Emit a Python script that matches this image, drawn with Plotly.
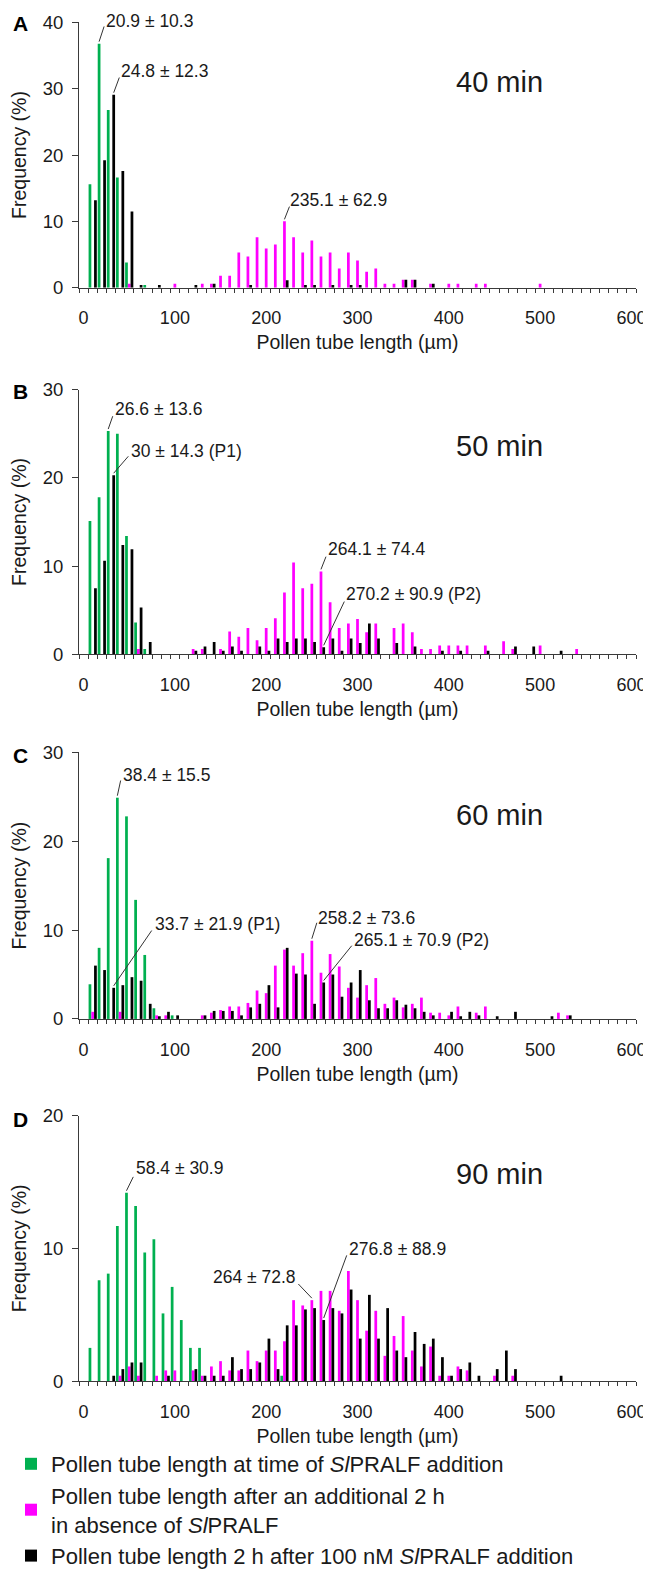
import plotly.graph_objects as go

W, H = 651, 1569
PAGE_MARGIN = 8                      # default page body margin around the figure
S = H / (H + 2 * PAGE_MARGIN)        # vertical scale of the photographed page
FONT = "Liberation Sans, Arial, Helvetica, sans-serif"
TXT = "#1a1a1a"
AX = "#3a3a3a"


def px_x(t):
    return (t - PAGE_MARGIN) / W


def px_y(t):
    return 1 - (t / S - PAGE_MARGIN) / H


# ---- categories: bin k is the category labelled 10*k µm ----
bin_step = 10
n_bins = 61
x_tick_vals = [0, 100, 200, 300, 400, 500, 600]
x_tick_text = ["0", "100", "200", "300", "400", "500", "600"]

series_names = [
    "Pollen tube length at time of <i>Sl</i>PRALF addition",
    "Pollen tube length after an additional 2 h<br>in absence of <i>Sl</i>PRALF",
    "Pollen tube length 2 h after 100 nM <i>Sl</i>PRALF addition",
]
series_colors = ["#00B050", "#FF00FF", "#000000"]

# ---- frequencies (%) per bin : {bin index: value} ----
green_40 = {1: 15.6, 2: 36.8, 3: 26.8, 4: 16.6, 5: 3.8, 7: 0.4}
magenta_40 = {5: 0.6, 10: 0.6, 13: 0.6, 14: 0.6, 15: 1.8, 16: 1.8, 17: 5.3, 18: 4.7,
              19: 7.6, 20: 5.9, 21: 6.5, 22: 10.0, 23: 7.6, 24: 5.3, 25: 7.1, 26: 4.7,
              27: 5.3, 28: 2.9, 29: 5.3, 30: 4.1, 31: 2.4, 32: 2.9, 33: 0.6, 34: 0.6,
              35: 1.2, 36: 1.2, 38: 0.6, 40: 0.6, 41: 0.6, 43: 0.6, 44: 0.6, 50: 0.6}
black_40 = {1: 13.2, 2: 19.2, 3: 29.1, 4: 17.6, 5: 11.5, 6: 0.4, 8: 0.4, 12: 0.4,
            14: 0.6, 18: 0.4, 22: 1.1, 24: 0.4, 25: 0.4, 27: 0.4, 29: 0.4, 30: 0.4,
            35: 1.2, 36: 1.2, 38: 0.6}

green_50 = {1: 15.1, 2: 17.8, 3: 25.3, 4: 25.0, 5: 13.4, 6: 3.6, 7: 0.6}
magenta_50 = {6: 0.6, 12: 0.6, 13: 0.6, 15: 0.6, 16: 2.6, 17: 2.0, 18: 3.0, 19: 1.6,
              20: 3.0, 21: 4.1, 22: 7.0, 23: 10.4, 24: 7.5, 25: 8.0, 26: 9.4, 27: 5.9,
              28: 3.0, 29: 3.5, 30: 4.0, 31: 2.5, 32: 3.5, 34: 3.0, 35: 3.5, 36: 2.5,
              37: 0.6, 38: 0.6, 39: 1.0, 40: 1.0, 41: 1.0, 42: 1.0, 44: 1.0, 46: 1.5,
              47: 0.6, 50: 1.0, 54: 0.6}
black_50 = {1: 7.5, 2: 10.6, 3: 20.3, 4: 12.4, 5: 11.9, 6: 5.3, 7: 1.4, 12: 0.4,
            13: 0.9, 14: 1.4, 15: 0.4, 16: 0.9, 17: 0.4, 19: 0.9, 20: 0.4, 21: 1.8,
            22: 1.4, 23: 1.8, 24: 1.8, 25: 1.4, 26: 0.8, 27: 1.8, 28: 0.4, 29: 1.8,
            30: 1.3, 31: 3.5, 32: 1.8, 34: 1.3, 36: 0.9, 39: 0.4, 41: 0.4, 44: 0.4,
            47: 0.9, 49: 0.9, 52: 0.4}

green_60 = {1: 3.9, 2: 8.0, 3: 18.1, 4: 24.9, 5: 22.8, 6: 13.4, 7: 7.2, 8: 1.2, 10: 0.4}
magenta_60 = {1: 0.8, 4: 0.8, 8: 0.4, 9: 0.4, 13: 0.4, 14: 0.7, 15: 1.0, 16: 1.4,
              17: 1.4, 18: 1.8, 19: 3.2, 20: 2.9, 21: 6.0, 22: 7.8, 23: 6.0, 24: 7.4,
              25: 8.8, 26: 5.2, 27: 7.3, 28: 5.9, 29: 3.5, 30: 2.4, 31: 3.8, 32: 4.6,
              33: 1.7, 34: 2.4, 35: 1.3, 36: 1.7, 37: 2.4, 38: 0.7, 39: 0.7, 40: 0.4,
              41: 1.4, 43: 0.7, 44: 1.4, 52: 0.7, 53: 0.4}
black_60 = {1: 6.0, 2: 5.5, 3: 3.5, 4: 3.8, 5: 4.7, 6: 4.3, 7: 1.7, 8: 0.3, 9: 0.8,
            10: 0.4, 13: 0.4, 14: 0.9, 15: 0.9, 16: 0.9, 17: 0.4, 18: 1.3, 19: 1.7,
            20: 3.8, 21: 1.3, 22: 8.0, 23: 5.1, 24: 5.0, 25: 1.7, 26: 4.1, 27: 5.0,
            28: 2.5, 29: 4.1, 30: 5.5, 31: 2.1, 32: 1.2, 33: 1.2, 34: 2.1, 35: 1.6,
            36: 1.2, 37: 0.8, 38: 0.4, 40: 0.8, 41: 0.3, 42: 0.8, 43: 0.4, 45: 0.3,
            47: 0.8, 51: 0.3, 53: 0.4}

green_90 = {1: 2.5, 2: 7.6, 3: 8.1, 4: 11.7, 5: 14.2, 6: 13.2, 7: 9.7, 8: 10.7,
            9: 5.1, 10: 7.1, 11: 4.6, 12: 2.5, 13: 2.5, 22: 0.4}
magenta_90 = {4: 0.4, 5: 1.1, 6: 0.4, 8: 0.4, 9: 0.8, 10: 0.8, 12: 0.8, 13: 0.4,
              14: 1.1, 15: 1.5, 16: 0.8, 17: 0.8, 18: 2.3, 19: 1.5, 20: 2.3, 21: 2.3,
              22: 3.0, 23: 6.1, 24: 5.7, 25: 6.1, 26: 6.8, 27: 6.8, 28: 5.3, 29: 8.3,
              30: 6.1, 31: 3.8, 32: 5.3, 33: 1.9, 34: 3.4, 35: 4.9, 36: 2.3, 37: 1.1,
              38: 2.6, 39: 0.4, 40: 0.4, 41: 1.1, 42: 0.8, 45: 0.4, 47: 0.4}
black_90 = {3: 0.4, 4: 0.9, 5: 1.4, 6: 1.4, 9: 0.4, 12: 0.9, 13: 0.4, 14: 0.4, 15: 0.4,
            16: 1.8, 17: 0.9, 18: 0.9, 19: 1.4, 20: 3.2, 21: 0.9, 22: 4.2, 23: 4.2,
            24: 5.4, 25: 5.5, 26: 4.6, 27: 5.5, 28: 5.1, 29: 6.9, 30: 3.2, 31: 6.5,
            32: 3.2, 33: 5.5, 34: 2.3, 35: 1.8, 36: 3.7, 37: 2.8, 38: 3.2, 39: 1.8,
            40: 0.4, 41: 0.9, 42: 1.4, 43: 0.4, 45: 0.9, 46: 2.3, 47: 0.9, 52: 0.4}

panel_letters = ["A", "B", "C", "D"]
panel_times = ["40 min", "50 min", "60 min", "90 min"]
panel_ymax = [40, 30, 30, 20]
panel_series = [
    (green_40, magenta_40, black_40),
    (green_50, magenta_50, black_50),
    (green_60, magenta_60, black_60),
    (green_90, magenta_90, black_90),
]

# mean ± SD labels: (series index, bin, text)
panel_labels = [
    [(0, 2, "20.9 ± 10.3"), (2, 3, "24.8 ± 12.3"), (1, 22, "235.1 ± 62.9")],
    [(0, 3, "26.6 ± 13.6"), (2, 3, "30 ± 14.3 (P1)"), (1, 26, "264.1 ± 74.4"),
     (2, 26, "270.2 ± 90.9 (P2)")],
    [(0, 4, "38.4 ± 15.5"), (2, 3, "33.7 ± 21.9 (P1)"), (1, 25, "258.2 ± 73.6"),
     (2, 26, "265.1 ± 70.9 (P2)")],
    [(0, 5, "58.4 ± 30.9"), (1, 25, "264 ± 72.8"), (2, 26, "276.8 ± 88.9")],
]

# ---- layout geometry (window pixels) ----
plot_left, plot_right = 79, 636
panel_top = [22.3, 388.3, 750.0, 1112.3]
panel_bottom = [286.7, 652.3, 1015.7, 1376.7]
time_y = [81.7, 445.0, 812.0, 1170.0]
letter_y = [23.7, 390.0, 753.0, 1116.0]
# leader-line end (dx, dy up) and text offset (dx, dy up, anchor)
label_geom = [
    [((5, 17), (5, 22.8, "left")), ((5.6, 17), (5.5, 23.3, "left")), ((5, 14.6), (4, 21.3, "left"))],
    [((4.5, 14.7), (5, 21.4, "left")), ((14.6, 18.7), (15, 23.7, "left")),
     ((5, 14.6), (5, 22.3, "left")), ((20.6, 45.3), (20.5, 52.6, "left"))],
    [((3.3, 17), (3.6, 22, "left")), ((38, 56.7), (39.3, 63, "left")),
     ((5, 17.8), (4.2, 22.8, "left")), ((28, 36.4), (28.3, 42.4, "left"))],
    [((6.8, 15.7), (7.5, 24, "left")), ((-13.5, 16), (-13.8, 23, "right")),
     ((23, 64), (23.3, 70, "left"))],
]

bargap = 0.1
bar_w = (1 - bargap) * bin_step / 3

fig = go.Figure()
shapes, annotations = [], []
layout = {}

for i in range(4):
    xa = "x" if i == 0 else f"x{i + 1}"
    ya = "y" if i == 0 else f"y{i + 1}"
    for s in range(3):
        d = panel_series[i][s]
        fig.add_trace(go.Bar(
            x=[k * bin_step for k in d], y=list(d.values()),
            name=series_names[s], legendgroup=f"s{s}", showlegend=(i == 0),
            marker=dict(color=series_colors[s], line=dict(width=0)),
            xaxis=xa, yaxis=ya, hoverinfo="x+y",
        ))
    dom_y = [px_y(panel_bottom[i]), px_y(panel_top[i])]
    ymax = panel_ymax[i]
    layout["xaxis" if i == 0 else f"xaxis{i + 1}"] = dict(
        domain=[px_x(plot_left), px_x(plot_right)], anchor=ya,
        range=[-bin_step / 2, (n_bins - 0.5) * bin_step],
        showline=True, linecolor=AX, linewidth=1, showgrid=False, zeroline=False,
        ticks="", tickmode="array", tickvals=x_tick_vals, ticktext=x_tick_text,
        tickfont=dict(size=18, color=TXT, family=FONT), ticklabelstandoff=14,
        minor=dict(tickmode="array",
                   tickvals=[(k - 0.5) * bin_step for k in range(n_bins + 1)],
                   ticks="outside", ticklen=4, tickwidth=1, tickcolor=AX, showgrid=False),
        title=dict(text="Pollen tube length (µm)", standoff=8,
                   font=dict(size=19.5, color=TXT, family=FONT)),
        automargin=False, fixedrange=True,
    )
    layout["yaxis" if i == 0 else f"yaxis{i + 1}"] = dict(
        domain=dom_y, anchor=xa, range=[0, ymax],
        tickmode="array", tickvals=list(range(0, ymax + 1, 10)),
        ticks="outside", ticklen=6, tickwidth=1, tickcolor=AX,
        showline=True, linecolor=AX, linewidth=1, showgrid=False, zeroline=False,
        tickfont=dict(size=18.5, color=TXT, family=FONT), ticklabelstandoff=5,
        title=dict(text="Frequency (%)", standoff=10,
                   font=dict(size=19.5, color=TXT, family=FONT)),
        automargin=False, fixedrange=True,
    )
    # mean ± SD labels with leader lines
    for (s, k, txt), ((ldx, ldy), (tdx, tdy, anc)) in zip(panel_labels[i], label_geom[i]):
        xpos = k * bin_step + (s - 1) * bar_w
        yval = panel_series[i][s][k]
        shapes.append(dict(type="line", xref=xa, yref=ya, xsizemode="pixel",
                           ysizemode="pixel", xanchor=xpos, yanchor=yval,
                           x0=0, y0=2, x1=ldx, y1=ldy / S,
                           line=dict(color="#333333", width=1)))
        annotations.append(dict(x=xpos, y=yval, xref=xa, yref=ya, text=txt,
                                showarrow=False, xanchor=anc, yanchor="middle",
                                xshift=tdx, yshift=tdy / S,
                                font=dict(size=17.5, color=TXT, family=FONT)))
    annotations.append(dict(x=px_x(454), y=px_y(time_y[i]), xref="paper", yref="paper",
                            text=panel_times[i], showarrow=False, xanchor="left",
                            yanchor="middle", font=dict(size=29, color=TXT, family=FONT)))
    annotations.append(dict(x=px_x(20), y=px_y(letter_y[i]), xref="paper", yref="paper",
                            text=f"<b>{panel_letters[i]}</b>", showarrow=False,
                            xanchor="center", yanchor="middle",
                            font=dict(size=21, color="#000000", family=FONT)))

fig.update_layout(
    width=W, height=H, margin=dict(l=0, r=0, t=0, b=0),
    paper_bgcolor="white", plot_bgcolor="white",
    barmode="group", bargap=bargap, bargroupgap=0,
    font=dict(family=FONT, color=TXT),
    shapes=shapes, annotations=annotations,
    legend=dict(x=3 / W, y=1 - 1445.4 / H, xanchor="left", yanchor="top",
                font=dict(size=22, color=TXT, family=FONT),
                tracegroupgap=0, bgcolor="rgba(0,0,0,0)", traceorder="grouped"),
    **layout,
)

fig.write_html("out.html", config={"displayModeBar": False})
